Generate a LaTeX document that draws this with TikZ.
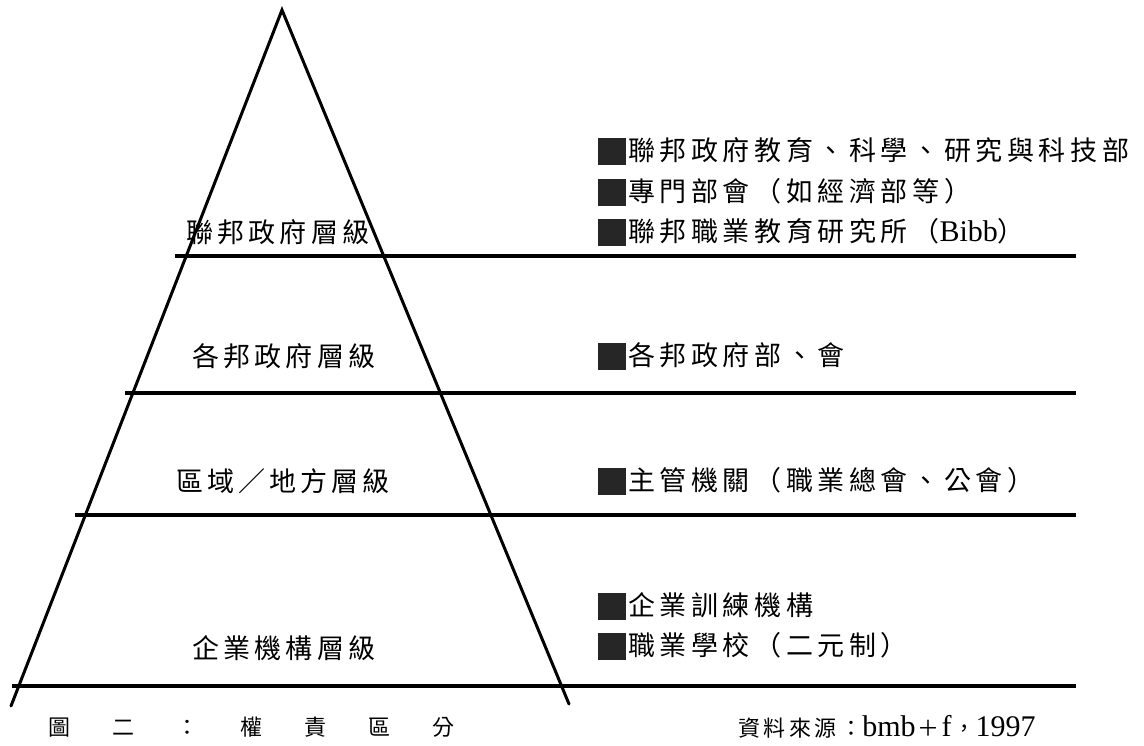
\documentclass[tikz,border=0pt]{standalone}
\usepackage{fontspec}
\setmainfont{Noto Sans CJK TC}
\newfontfamily\latserif{Liberation Serif}
\newfontfamily\lefttxt[LetterSpace=15]{Noto Sans CJK TC}
\newfontfamily\righttxt[LetterSpace=17]{Noto Sans CJK TC}
\newfontfamily\srctxt[LetterSpace=16]{Noto Sans CJK TC}
\newcommand\blt{{\color{black!85}\rule[-4pt]{28pt}{27pt}}\hspace{2pt}}
\newcommand\capgap{\hspace{42pt}}
\newcommand\srclat[1]{{\latserif\fontsize{30pt}{30pt}\selectfont #1}}
\tikzset{
  tri/.style={line width=3pt, line cap=round, line join=miter},
  hline/.style={line width=3.6pt},
  leftlab/.style={font=\lefttxt\fontsize{27pt}{27pt}\selectfont, inner sep=0pt, anchor=center},
  rightlab/.style={font=\righttxt\fontsize{27pt}{27pt}\selectfont, inner sep=0pt, anchor=west},
  caplab/.style={font=\fontsize{22pt}{22pt}\selectfont, inner sep=0pt},
  srclab/.style={font=\srctxt\fontsize{22pt}{22pt}\selectfont, inner sep=0pt}
}
\begin{document}
\begin{tikzpicture}[x=1pt,y=-1pt]
\useasboundingbox (0,0) rectangle (1144,745);
% triangle
\coordinate (apex) at (282,10);
\coordinate (bl) at (11,706);
\coordinate (br) at (569,704);
\draw[tri] (bl) -- (apex) -- (br);
% horizontal lines
\coordinate (h1a) at (175,256); \coordinate (h1b) at (1076,256);
\coordinate (h2a) at (125,393); \coordinate (h2b) at (1076,393);
\coordinate (h3a) at (75,515);  \coordinate (h3b) at (1076,515);
\coordinate (h4a) at (12,686);  \coordinate (h4b) at (1076,686);
\draw[hline] (h1a) -- (h1b);
\draw[hline] (h2a) -- (h2b);
\draw[hline] (h3a) -- (h3b);
\draw[hline] (h4a) -- (h4b);
% left labels
\node[leftlab] (l1) at (278,232) {聯邦政府層級};
\node[leftlab] (l2) at (284,356) {各邦政府層級};
\node[leftlab] (l3) at (283,481) {區域／地方層級};
\node[leftlab] (l4) at (284,648) {企業機構層級};
% right labels
\node[rightlab] (r1) at (598,151) {\blt 聯邦政府教育、科學、研究與科技部};
\node[rightlab] (r2) at (598,192) {\blt 專門部會（如經濟部等）};
\node[rightlab] (r3) at (598,232) {\blt 聯邦職業教育研究所（{\latserif\fontsize{30pt}{30pt}\selectfont Bibb}）};
\node[rightlab] (r4) at (598,356) {\blt 各邦政府部、會};
\node[rightlab] (r5) at (598,481) {\blt 主管機關（職業總會、公會）};
\node[rightlab] (r6) at (598,606) {\blt 企業訓練機構};
\node[rightlab] (r7) at (598,646) {\blt 職業學校（二元制）};
% captions
\node[caplab, anchor=west] (cap) at (48,727) {圖\capgap 二\capgap ：\capgap 權\capgap 責\capgap 區\capgap 分};
\node[srclab, anchor=west] (src) at (738,727) {資料來源：\srclat{bmb}\hspace{2pt}＋\hspace{2pt}\srclat{f}\hspace{2pt}，\srclat{1997}};
\end{tikzpicture}
\end{document}
